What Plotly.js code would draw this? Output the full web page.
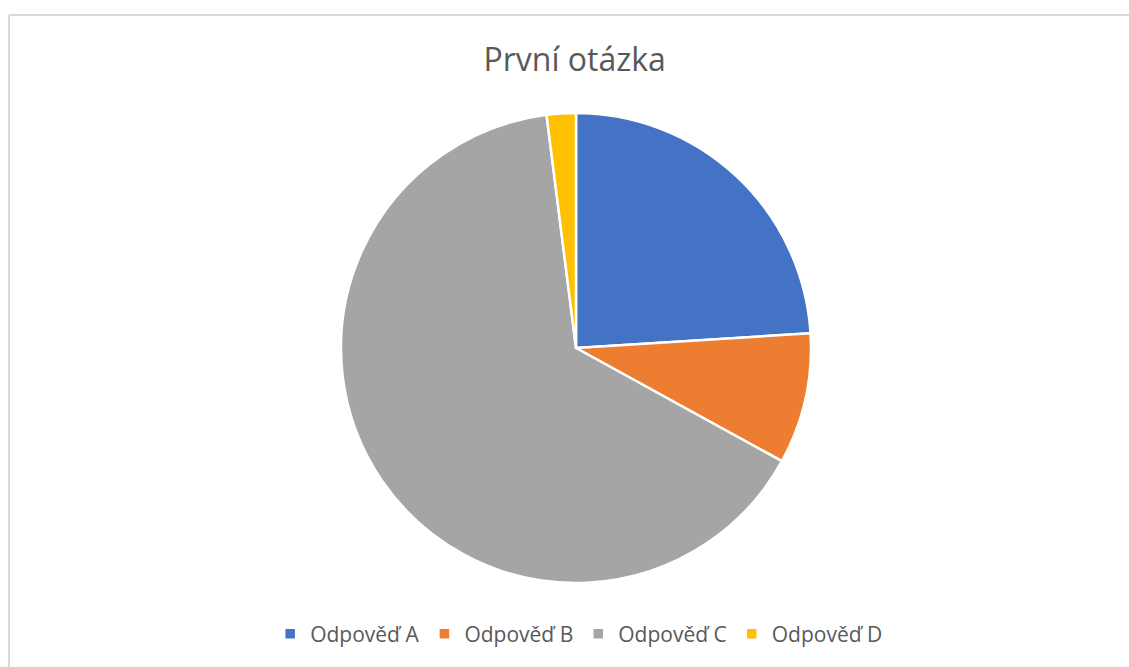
<!DOCTYPE html>
<html><head><meta charset="utf-8">
<script src="https://cdn.plot.ly/plotly-3.0.1.min.js"></script>
<style>html,body{margin:0;padding:0;background:#fff;overflow:hidden}</style>
</head><body>
<div id="chart" style="width:1129px;height:667px"></div>
<script>
const categories = ["Odpověď A", "Odpověď B", "Odpověď C", "Odpověď D"];
const values = [24, 9, 65, 2];
const colors = ["#4472C4", "#ED7D31", "#A5A5A5", "#FFC000"];
const titleText = "První otázka";

const W = 1129, H = 667;
const data = [{
  type: "pie",
  labels: categories,
  values: values,
  sort: false,
  direction: "clockwise",
  rotation: 0,
  textinfo: "none",
  hoverinfo: "label+value",
  marker: {colors: colors, line: {color: "#ffffff", width: 2.5}},
  domain: {x: [341 / W, 811 / W], y: [(H - 583) / H, (H - 113) / H]}
}];
const layout = {
  width: W, height: H,
  margin: {l: 0, r: 0, t: 0, b: 0},
  paper_bgcolor: "#ffffff",
  font: {family: "Open Sans, sans-serif", color: "#595959"},
  title: {text: titleText, x: 0.509, xanchor: "center", y: 1 - 60 / H, yanchor: "middle",
          font: {size: 32, color: "#595959", family: "Open Sans, sans-serif"}},
  showlegend: true,
  legend: {orientation: "h", x: 0.513, xanchor: "center", y: 1 - 634 / H, yanchor: "middle",
           font: {size: 21, color: "#595959"}, itemwidth: 30, traceorder: "normal"},
  shapes: [
    {type: "line", xref: "paper", yref: "paper", x0: 9 / W, x1: 1.1, y0: 1 - 15 / H, y1: 1 - 15 / H,
     line: {color: "#D9D9D9", width: 2}},
    {type: "line", xref: "paper", yref: "paper", x0: 9 / W, x1: 9 / W, y0: 1 - 15 / H, y1: -0.1,
     line: {color: "#D9D9D9", width: 2}}
  ]
};
Plotly.newPlot("chart", data, layout, {displayModeBar: false, staticPlot: true});
</script>
</body></html>
